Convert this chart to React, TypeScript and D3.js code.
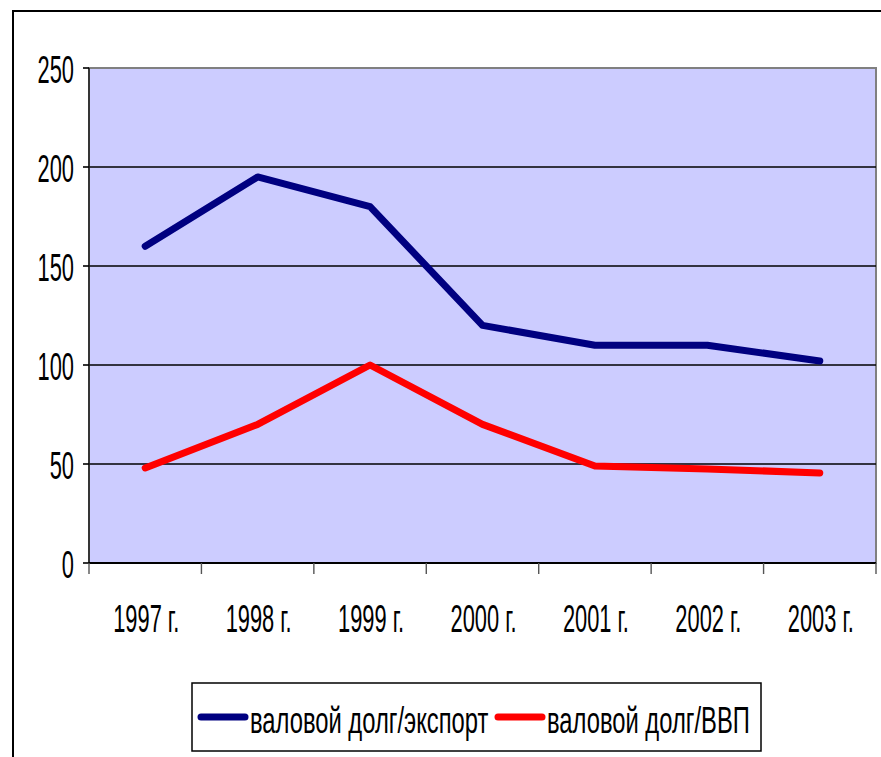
import { useEffect, useRef } from 'react'
import * as d3 from 'd3'

const years = ['1997 г.', '1998 г.', '1999 г.', '2000 г.', '2001 г.', '2002 г.', '2003 г.']
const debtToExport = [160, 195, 180, 120, 110, 110, 102]
const debtToGdp = [48, 70, 100, 70, 49, 47.5, 45.5]
const yTicks = [0, 50, 100, 150, 200, 250]
const seriesNames = ['валовой долг/экспорт', 'валовой долг/ВВП']
const seriesColors = ['#000080', '#ff0000']

const W = 881
const H = 757
const plot = { left: 89, top: 68, right: 876, bottom: 563 }
const FONT = '"Liberation Sans", Arial, sans-serif'
const SX = 0.56

export default function App() {
  const ref = useRef<SVGSVGElement>(null)

  useEffect(() => {
    const svg = d3.select(ref.current)
    svg.selectAll('*').remove()

    const x = d3.scaleBand().domain(years).range([plot.left, plot.right])
    const y = d3.scaleLinear().domain([0, 250]).range([plot.bottom, plot.top])

    // outer chart frame
    svg.append('rect')
      .attr('x', 13).attr('y', 11)
      .attr('width', 950).attr('height', 900)
      .attr('fill', '#fff').attr('stroke', '#000').attr('stroke-width', 2)

    // plot area
    svg.append('rect')
      .attr('x', plot.left).attr('y', plot.top)
      .attr('width', plot.right - plot.left).attr('height', plot.bottom - plot.top)
      .attr('fill', '#ccccff').attr('stroke', '#808080').attr('stroke-width', 2)

    // grid
    svg.append('g').selectAll('line')
      .data(yTicks.filter(d => d > 0 && d < 250))
      .join('line')
      .attr('x1', plot.left).attr('x2', plot.right)
      .attr('y1', d => y(d)).attr('y2', d => y(d))
      .attr('stroke', '#000').attr('stroke-width', 1.6)

    // y axis
    svg.append('line')
      .attr('x1', plot.left).attr('x2', plot.left)
      .attr('y1', plot.top).attr('y2', plot.bottom)
      .attr('stroke', '#222').attr('stroke-width', 1.6)
    const ya = svg.append('g')
    ya.selectAll('line')
      .data(yTicks)
      .join('line')
      .attr('x1', plot.left - 6).attr('x2', plot.left)
      .attr('y1', d => y(d)).attr('y2', d => y(d))
      .attr('stroke', '#000').attr('stroke-width', 1.6)
    ya.selectAll('text')
      .data(yTicks)
      .join('text')
      .attr('transform', d => `translate(${plot.left - 15},${y(d) + 15}) scale(${SX},1)`)
      .attr('text-anchor', 'end')
      .attr('font-family', FONT)
      .attr('font-size', 39)
      .attr('fill', '#000')
      .text(d => d)

    // x axis
    svg.append('line')
      .attr('x1', plot.left).attr('x2', plot.right)
      .attr('y1', plot.bottom).attr('y2', plot.bottom)
      .attr('stroke', '#000').attr('stroke-width', 1.8)
    const xa = svg.append('g')
    const bounds = years.map(d => x(d) as number).concat([plot.right])
    xa.selectAll('line')
      .data(bounds)
      .join('line')
      .attr('x1', d => d).attr('x2', d => d)
      .attr('y1', plot.bottom).attr('y2', plot.bottom + 11)
      .attr('stroke', '#555').attr('stroke-width', 1.4)
    xa.selectAll('text')
      .data(years)
      .join('text')
      .attr('transform', d => `translate(${(x(d) as number) + x.bandwidth() / 2 + 1},${plot.bottom + 69}) scale(${SX},1)`)
      .attr('text-anchor', 'middle')
      .attr('font-family', FONT)
      .attr('font-size', 39)
      .attr('fill', '#000')
      .text(d => d)

    // lines
    const line = d3.line<number>()
      .x((_, i) => (x(years[i]) as number) + x.bandwidth() / 2)
      .y(d => y(d))
    ;[debtToExport, debtToGdp].forEach((s, i) => {
      svg.append('path')
        .attr('d', line(s))
        .attr('fill', 'none')
        .attr('stroke', seriesColors[i])
        .attr('stroke-width', 7)
        .attr('stroke-linejoin', 'round')
        .attr('stroke-linecap', 'round')
    })

    // legend
    const lg = svg.append('g')
    lg.append('rect')
      .attr('x', 192).attr('y', 683)
      .attr('width', 569).attr('height', 68)
      .attr('fill', '#fff').attr('stroke', '#000').attr('stroke-width', 1.5)
    const legendX = [201, 498]
    seriesNames.forEach((name, i) => {
      lg.append('line')
        .attr('x1', legendX[i]).attr('x2', legendX[i] + 44)
        .attr('y1', 717).attr('y2', 717)
        .attr('stroke', seriesColors[i]).attr('stroke-width', 7)
        .attr('stroke-linecap', 'round')
      lg.append('text')
        .attr('transform', `translate(${legendX[i] + 49},733) scale(0.66,1)`)
        .attr('font-family', FONT)
        .attr('font-size', 36)
        .attr('fill', '#000')
        .text(name)
    })
  }, [])

  return (
    <svg ref={ref} width={W} height={H}
      style={{ position: 'absolute', left: 0, top: 0, background: '#fff' }} />
  )
}
